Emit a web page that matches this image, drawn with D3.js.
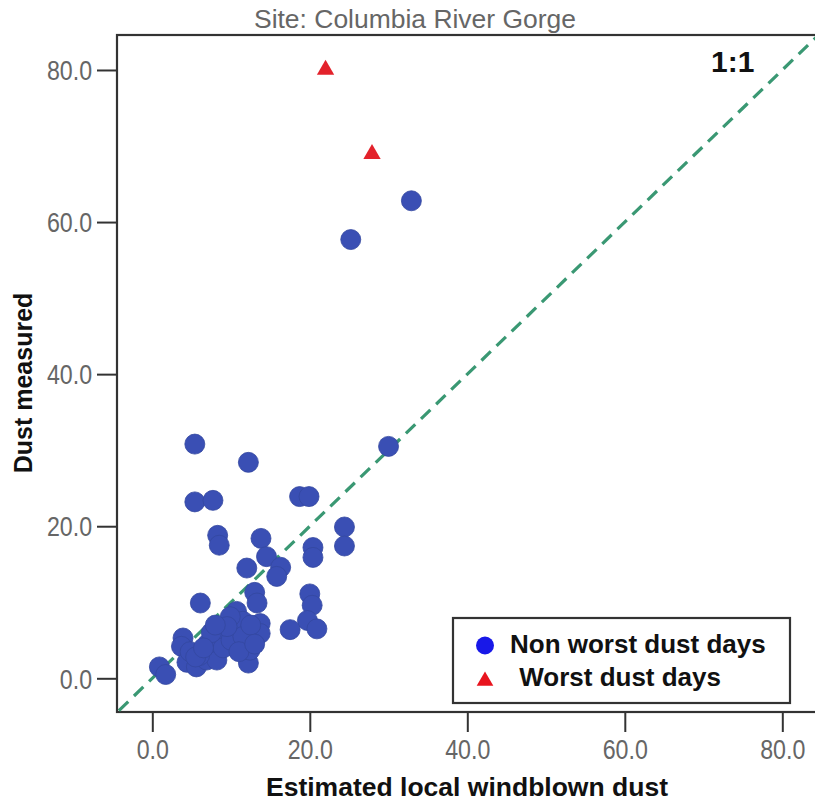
<!DOCTYPE html>
<html>
<head>
<meta charset="utf-8">
<script src="https://cdn.jsdelivr.net/npm/d3@7/dist/d3.min.js"></script>
<style>
  html, body { margin: 0; padding: 0; background: #fff; }
  svg { display: block; font-family: "Liberation Sans", Arial, sans-serif; }
</style>
</head>
<body>
<svg id="chart" width="815" height="802"></svg>
<script>
// Estimated local windblown dust (x) vs. dust measured (y)
const nonWorstX = [32.9, 25.2, 30.0, 5.4, 12.2, 5.4, 7.7, 18.7, 19.9, 8.3,
                   8.5, 13.8, 24.4, 24.4, 20.4, 20.4, 14.5, 12.0, 16.3, 15.8,
                   6.1, 13.0, 13.3, 20.0, 20.3, 19.7, 17.5, 20.9, 12.2, 12.4,
                   0.9, 1.7, 3.9, 3.7, 4.4, 5.6, 6.9, 8.2, 8.6, 10.3,
                   12.8, 13.7, 13.7, 10.7, 11.5, 9.9, 4.8, 6.0, 7.0, 9.0,
                   10.0, 11.5, 12.5, 9.5, 7.5, 5.5, 11.0, 13.0, 8.0, 6.5];
const nonWorstY = [62.8, 57.7, 30.5, 30.8, 28.4, 23.2, 23.4, 23.9, 23.9, 18.8,
                   17.5, 18.4, 19.9, 17.4, 17.2, 15.9, 16.0, 14.5, 14.6, 13.4,
                   9.9, 11.3, 9.9, 11.1, 9.6, 7.6, 6.4, 6.5, 2.0, 3.7,
                   1.5, 0.5, 5.3, 4.2, 2.1, 1.5, 2.4, 2.4, 5.9, 6.4,
                   5.9, 7.2, 5.9, 8.8, 7.5, 8.1, 3.5, 3.0, 4.5, 4.0,
                   5.0, 5.5, 7.0, 6.8, 6.0, 2.8, 3.5, 4.5, 7.0, 4.0];
const worstX = [22.0, 27.9];
const worstY = [80.3, 69.2];
const tickValues = [0, 20, 40, 60, 80];
const legendLabels = ["Non worst dust days", " Worst dust days"];
const titleText = "Site: Columbia River Gorge";

const svg = d3.select("#chart");
const plot = { left: 117, top: 35, right: 817, bottom: 712 };

const x = d3.scaleLinear().domain([-4.483, 84.406]).range([plot.left, plot.right]);
const y = d3.scaleLinear().domain([-4.432, 84.60]).range([plot.bottom, plot.top]);

const fmt = d3.format(".1f");
const tickColor = "#666";
const narrow = 0.86;

// clip region for the plotting area
svg.append("defs").append("clipPath").attr("id", "plotClip")
  .append("rect")
  .attr("x", plot.left).attr("y", plot.top)
  .attr("width", plot.right - plot.left).attr("height", plot.bottom - plot.top);

// title
svg.append("text")
  .attr("x", 415).attr("y", 28)
  .attr("text-anchor", "middle")
  .attr("font-size", 26)
  .attr("textLength", 322)
  .attr("lengthAdjust", "spacingAndGlyphs")
  .attr("fill", "#666")
  .text(titleText);

// axes
const yAxis = svg.append("g")
  .attr("transform", `translate(${plot.left},0)`)
  .call(d3.axisLeft(y).tickValues(tickValues).tickFormat(fmt).tickSize(20).tickPadding(9));
const xAxis = svg.append("g")
  .attr("transform", `translate(0,${plot.bottom})`)
  .call(d3.axisBottom(x).tickValues(tickValues).tickFormat(fmt).tickSize(20).tickPadding(8));

[xAxis, yAxis].forEach(g => {
  g.select(".domain").remove();
  g.selectAll(".tick line").attr("stroke", "#333").attr("stroke-width", 2);
  g.selectAll(".tick text")
    .attr("fill", tickColor)
    .attr("font-size", 27)
    .attr("font-family", "\"Liberation Sans\", Arial, sans-serif")
    .attr("transform", `scale(${narrow},1)`);
});
yAxis.selectAll(".tick text").attr("dy", "0.36em");
xAxis.selectAll(".tick text").attr("dy", "0.72em");

// frame
svg.append("rect")
  .attr("x", plot.left).attr("y", plot.top)
  .attr("width", plot.right - plot.left).attr("height", plot.bottom - plot.top)
  .attr("fill", "none").attr("stroke", "#333").attr("stroke-width", 2.2);

const inner = svg.append("g").attr("clip-path", "url(#plotClip)");

// 1:1 reference line
const lo = -10, hi = 100;
inner.append("line")
  .attr("x1", x(lo)).attr("y1", y(lo))
  .attr("x2", x(hi)).attr("y2", y(hi))
  .attr("stroke", "#3a9873")
  .attr("stroke-width", 3.2)
  .attr("stroke-dasharray", "13,8");

// non worst dust days
const blue = "#3a4fb4";
inner.append("g").selectAll("circle")
  .data(d3.range(nonWorstX.length))
  .join("circle")
  .attr("cx", i => x(nonWorstX[i]))
  .attr("cy", i => y(nonWorstY[i]))
  .attr("r", 10)
  .attr("fill", blue)
  .attr("stroke", "#34479f")
  .attr("stroke-width", 0.8);

// worst dust days
const tri = d3.symbol().type(d3.symbolTriangle).size(130);
inner.append("g").selectAll("path")
  .data(d3.range(worstX.length))
  .join("path")
  .attr("d", tri)
  .attr("transform", i => `translate(${x(worstX[i])},${y(worstY[i]) + 2})`)
  .attr("fill", "#e3222b");

// 1:1 annotation
svg.append("text")
  .attr("x", 711).attr("y", 72)
  .attr("font-size", 30)
  .attr("font-weight", "bold")
  .attr("fill", "#111")
  .text("1:1");

// axis titles
svg.append("text")
  .attr("x", 467).attr("y", 796)
  .attr("text-anchor", "middle")
  .attr("font-size", 26.5)
  .attr("font-weight", "bold")
  .attr("fill", "#111")
  .text("Estimated local windblown dust");

svg.append("text")
  .attr("transform", "translate(32,383) rotate(-90)")
  .attr("text-anchor", "middle")
  .attr("font-size", 25)
  .attr("font-weight", "bold")
  .attr("fill", "#111")
  .text("Dust measured");

// legend
const legend = svg.append("g");
legend.append("rect")
  .attr("x", 453).attr("y", 618).attr("width", 337).attr("height", 85)
  .attr("fill", "#fff").attr("stroke", "#333").attr("stroke-width", 2.2);
legend.append("circle")
  .attr("cx", 485).attr("cy", 645.5).attr("r", 9).attr("fill", "#1818e8");
legend.append("path")
  .attr("d", d3.symbol().type(d3.symbolTriangle).size(120))
  .attr("transform", "translate(485,681)")
  .attr("fill", "#e8141e");
legend.append("text")
  .attr("x", 510).attr("y", 653)
  .attr("font-size", 26).attr("font-weight", "bold").attr("fill", "#111")
  .text(legendLabels[0]);
legend.append("text")
  .attr("x", 512).attr("y", 686)
  .attr("font-size", 26).attr("font-weight", "bold").attr("fill", "#111")
  .style("white-space", "pre")
  .text(legendLabels[1]);
</script>
</body>
</html>
